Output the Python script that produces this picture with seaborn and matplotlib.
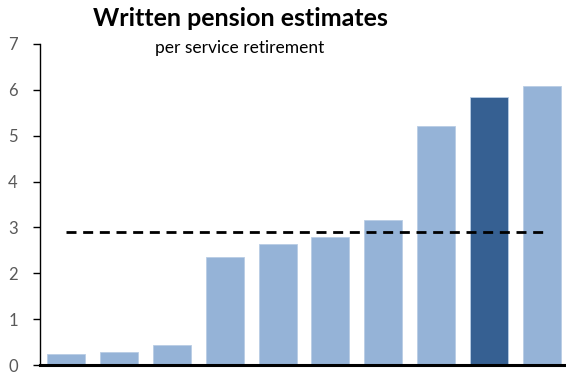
import matplotlib
matplotlib.use("Agg")
import matplotlib.pyplot as plt
import seaborn as sns
import pandas as pd

# Values per bar (estimates per service retirement)
categories = ["A", "B", "C", "D", "E", "F", "G", "H", "I", "J"]
values = [0.24, 0.28, 0.43, 2.35, 2.63, 2.80, 3.17, 5.21, 5.84, 6.09]
highlight = [False, False, False, False, False, False, False, False, True, False]
average = 2.89

light = "#95B3D7"
dark = "#366092"

sns.set_theme(style="white")
plt.rcParams["font.family"] = ["Lato", "DejaVu Sans"]

df = pd.DataFrame({"cat": categories, "val": values,
                   "grp": ["hi" if h else "lo" for h in highlight]})

fig = plt.figure(figsize=(5.66, 3.73), dpi=100)
ax = fig.add_axes([40 / 566, 1 - 365 / 373, 528 / 566, (365 - 44) / 373])

sns.barplot(data=df, x="cat", y="val", hue="grp", order=categories,
            palette={"lo": light, "hi": dark}, dodge=False, width=0.72,
            legend=False, ax=ax, edgecolor="#b9cde5", linewidth=0.6,
            saturation=1)

ax.hlines(average, 0.0, 9.02, colors="black", linestyles=(0, (3.6, 2.4)),
          linewidth=2)

ax.set_xlim(-0.5, 9.5)
ax.set_ylim(0, 7)
ax.set_yticks(range(0, 8))
ax.set_xlabel("")
ax.set_ylabel("")
ax.set_xticks([])

for s in ("top", "right"):
    ax.spines[s].set_visible(False)
ax.spines["left"].set_color("black")
ax.spines["left"].set_linewidth(1.0)
ax.spines["bottom"].set_color("black")
ax.spines["bottom"].set_linewidth(2.2)

ax.tick_params(axis="y", which="both", left=True, length=5, width=1,
               color="black", labelsize=12, labelcolor="#595959", pad=11)

fig.text(240 / 566, 1 - 18 / 373, "Written pension estimates",
         ha="center", va="center", fontsize=18, fontweight="bold",
         color="black")
fig.text(240 / 566, 1 - 48 / 373, "per service retirement",
         ha="center", va="center", fontsize=12.5, color="black")

fig.savefig("out.png", dpi=100)
